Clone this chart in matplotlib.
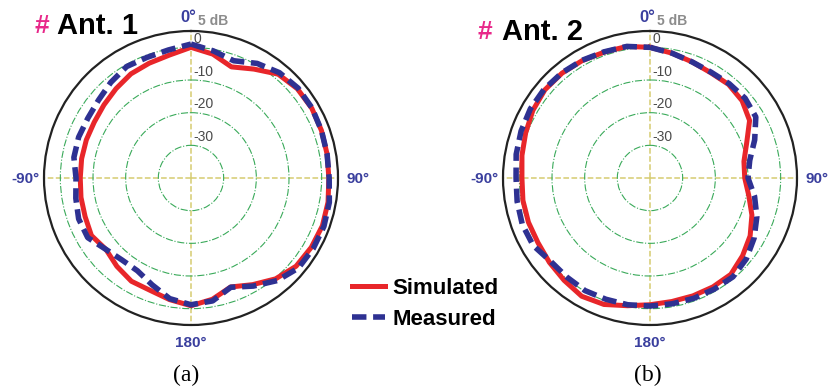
import numpy as np
import matplotlib.pyplot as plt

# angles in degrees, clockwise from the top (0..350)
angles = list(range(0, 360, 10))

# Ant. 1 gain (dB)
ant1_sim = [0.0, -1.5, -3.8, -1.5, 1.5, 2.5, 2.7, 2.5, 2.3, 2.2, 2.6, 2.8,
            2.5, 2.0, 0.3, -2.3, -4.5, -2.3, -0.9, -2.2, -3.4, -3.5, -4.7, -6.0,
            -4.8, -5.5, -5.8, -6.1, -6.0, -5.9, -5.8, -5.2, -4.3, -3.2, -2.6, -1.8]
ant1_meas = [1.0, -0.5, -1.8, 0.5, 2.1, 2.8, 2.8, 2.5, 2.3, 2.3, 3.0, 3.3,
             3.2, 2.9, 1.0, -1.8, -4.4, -1.8, -1.2, -2.5, -5.2, -7.2, -7.2, -6.0,
             -3.5, -3.4, -4.2, -4.8, -3.6, -3.4, -3.5, -3.0, -1.8, -0.6, -0.7, -0.2]

# Ant. 2 gain (dB)
ant2_sim = [0.0, -1.2, -2.2, -2.8, -2.6, -3.2, -4.8, -8.5, -10.8, -11.0, -9.3, -6.8,
            -4.6, -3.0, -1.5, -1.5, -1.6, -1.6, -1.2, -0.3, 1.2, 1.8, 0.9, 0.2,
            -0.4, -0.4, -0.5, -0.8, -0.2, 0.5, 1.4, 2.0, 1.9, 1.5, 1.0, 0.9]
ant2_meas = [0.0, -1.2, -2.2, -2.6, -2.3, -2.0, -2.6, -5.9, -9.0, -10.0, -7.5, -5.2,
             -3.2, -1.5, -0.5, -0.7, -0.8, -0.9, -0.8, -0.6, -0.5, -0.2, -0.4, -0.3,
             1.3, 1.6, 1.3, 1.0, 1.6, 2.0, 2.3, 2.3, 2.0, 1.6, 1.1, 0.9]

rings = [0, -10, -20, -30]
ring_labels = ['0', '-10', '-20', '-30']

W, H = 830, 387
RED = '#e8262a'
BLUE = '#2e3192'
LBLUE = '#3a3f9e'
PINK = '#e8288a'
SANS = 'Liberation Sans'


def px(x, y):
    return x / W, 1 - y / H


def closed(vals):
    th = np.deg2rad(angles + [360])
    return th, list(vals) + [vals[0]]


def polar_panel(fig, cx, cy, sim, meas):
    R = 147
    ax = fig.add_axes([(cx - R) / W, (H - cy - R) / H, 2 * R / W, 2 * R / H],
                      projection='polar')
    ax.set_theta_zero_location('N')
    ax.set_theta_direction(-1)
    ax.set_rlim(-40, 5)
    ax.set_thetagrids([0, 90, 180, 270], labels=[''] * 4)
    ax.set_rgrids(rings, labels=[''] * len(rings))
    ax.xaxis.grid(True, color='#d6cc70', ls='--', lw=1.1)
    ax.yaxis.grid(True, color='#3aaa5a', ls='-.', lw=0.8)
    ax.spines['polar'].set_color('#222222')
    ax.spines['polar'].set_linewidth(1.6)
    ax.tick_params(length=0)

    th, r = closed(sim)
    l1, = ax.plot(th, r, color=RED, lw=3.6, solid_joinstyle='round', zorder=3)
    th, r = closed(meas)
    l2, = ax.plot(th, r, color=BLUE, lw=4.0, dashes=(2.6, 1.2), zorder=4)

    for v, lab in zip(rings, ring_labels):
        ax.annotate(lab, xy=(0, v + 2.6), xytext=(2, 0), textcoords='offset points',
                    ha='left', va='center', color='#4a4a4a', fontsize=10,
                    fontfamily=SANS)

    fig.text(*px(cx - 3, 17), '0\u00b0', color=LBLUE, fontsize=12, fontweight='bold',
             ha='center', va='center', fontfamily=SANS)
    fig.text(*px(cx + 22, 21), '5 dB', color='#8c8c8c', fontsize=10, fontweight='bold',
             ha='center', va='center', fontfamily=SANS)
    fig.text(*px(cx - 166, 179), '-90\u00b0', color=LBLUE, fontsize=11, fontweight='bold',
             ha='center', va='center', fontfamily=SANS)
    fig.text(*px(cx + 167, 179), '90\u00b0', color=LBLUE, fontsize=11, fontweight='bold',
             ha='center', va='center', fontfamily=SANS)
    fig.text(*px(cx, 343), '180\u00b0', color=LBLUE, fontsize=11, fontweight='bold',
             ha='center', va='center', fontfamily=SANS)
    return ax, l1, l2


fig = plt.figure(figsize=(8.3, 3.87), dpi=100)

ax1, l1, l2 = polar_panel(fig, 191, 178, ant1_sim, ant1_meas)
ax2, _, _ = polar_panel(fig, 650, 178, ant2_sim, ant2_meas)

# panel titles
fig.text(*px(34, 26), '#', color=PINK, fontsize=19, fontweight='bold', va='center',
         fontfamily=SANS)
fig.text(*px(57, 26), 'Ant. 1', color='black', fontsize=21, fontweight='bold',
         va='center', fontfamily=SANS)
fig.text(*px(477, 32), '#', color=PINK, fontsize=19, fontweight='bold', va='center',
         fontfamily=SANS)
fig.text(*px(502, 32), 'Ant. 2', color='black', fontsize=21, fontweight='bold',
         va='center', fontfamily=SANS)

# captions
fig.text(*px(186, 375), '(a)', fontsize=17, ha='center', va='center',
         fontfamily='Liberation Serif')
fig.text(*px(648, 375), '(b)', fontsize=17, ha='center', va='center',
         fontfamily='Liberation Serif')

fig.legend([l1, l2], ['Simulated', 'Measured'], loc='center left',
           bbox_to_anchor=px(352, 304), frameon=False, borderpad=0,
           borderaxespad=0, handlelength=1.5, handletextpad=0.3,
           labelspacing=0.45, prop={'family': SANS, 'weight': 'bold', 'size': 16})

fig.savefig('out.png', dpi=100)
